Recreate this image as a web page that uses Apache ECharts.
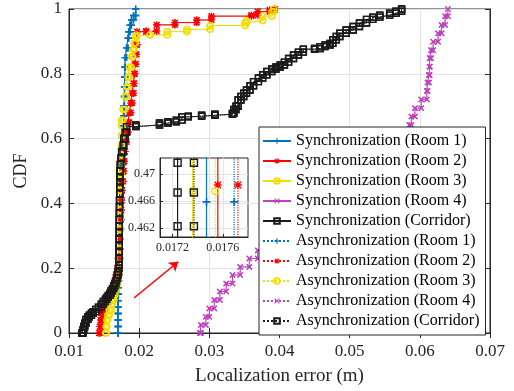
<!DOCTYPE html>
<html>
<head>
<meta charset="utf-8">
<script src="https://cdn.jsdelivr.net/npm/echarts@6/dist/echarts.min.js"></script>
<style>
  html, body { margin: 0; padding: 0; background: #fff; }
  #main { width: 514px; height: 391px; }
</style>
</head>
<body>
<div id="main"></div>
<script>
// CDF samples [localization error (m), CDF]
var room1 = [[0.0170,0],[0.0170,0.02],[0.0170,0.04],[0.01701,0.06],[0.01701,0.08],[0.01702,0.10],[0.01703,0.12],[0.01704,0.14],[0.01706,0.16],[0.0171,0.18],[0.01715,0.20],[0.0172,0.23],[0.01725,0.26],[0.0173,0.29],[0.01733,0.32],[0.01737,0.35],[0.0174,0.38],[0.01743,0.41],[0.01747,0.44],[0.01752,0.466],[0.0176,0.49],[0.01763,0.52],[0.01768,0.55],[0.01772,0.58],[0.01776,0.61],[0.0178,0.64],[0.01782,0.67],[0.01785,0.70],[0.01788,0.73],[0.0179,0.76],[0.01793,0.79],[0.01797,0.82],[0.0180,0.85],[0.0182,0.88],[0.0184,0.91],[0.0185,0.93],[0.0187,0.95],[0.0189,0.966],[0.0192,0.98],[0.0195,1.0]];
var room2 = [[0.01432,0],[0.0144,0.02],[0.01451,0.04],[0.0147,0.055],[0.0148,0.066],[0.0150,0.076],[0.01513,0.086],[0.0153,0.097],[0.0155,0.107],[0.0157,0.117],[0.0159,0.127],[0.0161,0.137],[0.0163,0.148],[0.0165,0.16],[0.0167,0.18],[0.0169,0.2],[0.0170,0.23],[0.0171,0.26],[0.0172,0.29],[0.01726,0.32],[0.0173,0.35],[0.01738,0.38],[0.01745,0.41],[0.0175,0.44],[0.01756,0.468],[0.0177,0.5],[0.0178,0.53],[0.0179,0.56],[0.0180,0.59],[0.0182,0.62],[0.0184,0.65],[0.0186,0.68],[0.0188,0.71],[0.0190,0.74],[0.0192,0.77],[0.0193,0.8],[0.0194,0.83],[0.0195,0.86],[0.0196,0.89],[0.0197,0.93],[0.0210,0.932],[0.0225,0.951],[0.0251,0.958],[0.0282,0.966],[0.0303,0.978],[0.0360,0.981],[0.0369,0.992],[0.0386,0.997],[0.0393,1.0]];
var room3 = [[0.01522,0],[0.0153,0.02],[0.01537,0.04],[0.0155,0.055],[0.01574,0.071],[0.0160,0.087],[0.01617,0.102],[0.0164,0.118],[0.01655,0.133],[0.0167,0.15],[0.01688,0.164],[0.0170,0.18],[0.0171,0.2],[0.01715,0.23],[0.0172,0.26],[0.01722,0.29],[0.01724,0.32],[0.01726,0.35],[0.01728,0.38],[0.0173,0.41],[0.01731,0.44],[0.01733,0.4675],[0.0174,0.49],[0.01742,0.52],[0.01745,0.55],[0.01747,0.58],[0.01749,0.61],[0.0175,0.64],[0.01751,0.657],[0.0177,0.69],[0.0180,0.73],[0.0182,0.76],[0.0184,0.79],[0.0186,0.82],[0.0189,0.853],[0.0191,0.875],[0.0193,0.895],[0.0195,0.915],[0.0196,0.92],[0.02154,0.920],[0.0240,0.930],[0.0268,0.937],[0.0301,0.949],[0.0351,0.958],[0.0353,0.964],[0.0376,0.978],[0.0389,0.992],[0.0392,1.0]];
var room4 = [[0.0287,0],[0.0288,0.025],[0.0295,0.05],[0.0300,0.076],[0.0307,0.102],[0.0315,0.128],[0.0324,0.153],[0.0333,0.179],[0.0344,0.204],[0.0357,0.23],[0.0369,0.255],[0.0585,0.642],[0.0588,0.668],[0.0593,0.694],[0.0602,0.721],[0.0610,0.747],[0.0611,0.773],[0.0613,0.796],[0.0614,0.822],[0.0614,0.848],[0.0616,0.873],[0.0619,0.899],[0.0626,0.925],[0.0631,0.951],[0.0636,0.978],[0.0640,1.0]];
var corridor = [[0.01185,0],[0.0120,0.01],[0.0121,0.02],[0.01225,0.03],[0.01242,0.042],[0.0127,0.05],[0.0129,0.055],[0.0132,0.061],[0.01346,0.066],[0.0138,0.073],[0.0142,0.08],[0.0146,0.089],[0.01489,0.097],[0.0152,0.104],[0.0154,0.11],[0.0156,0.116],[0.01584,0.122],[0.0160,0.13],[0.0162,0.137],[0.0164,0.145],[0.01655,0.153],[0.0167,0.162],[0.0168,0.17],[0.0169,0.18],[0.01702,0.189],[0.01706,0.20],[0.0171,0.21],[0.01712,0.23],[0.01714,0.25],[0.01715,0.27],[0.01716,0.29],[0.01716,0.31],[0.01717,0.33],[0.01717,0.35],[0.01718,0.37],[0.0172,0.39],[0.0172,0.41],[0.01722,0.43],[0.01723,0.45],[0.01724,0.467],[0.01726,0.48],[0.01727,0.50],[0.0173,0.52],[0.0174,0.54],[0.0175,0.56],[0.0177,0.58],[0.0178,0.60],[0.0180,0.62],[0.0182,0.637],[0.01954,0.642],[0.0229,0.648],[0.0241,0.652],[0.0253,0.657],[0.0261,0.667],[0.0270,0.669],[0.0289,0.672],[0.0308,0.675],[0.0333,0.678],[0.0335,0.69],[0.0338,0.70],[0.0341,0.719],[0.0345,0.73],[0.0349,0.74],[0.0353,0.75],[0.0358,0.763],[0.0363,0.776],[0.0370,0.787],[0.0376,0.797],[0.0382,0.807],[0.0389,0.815],[0.0395,0.821],[0.0401,0.827],[0.0407,0.836],[0.0413,0.847],[0.0420,0.858],[0.0427,0.867],[0.0434,0.876],[0.0450,0.878],[0.0458,0.884],[0.0465,0.889],[0.0472,0.894],[0.0476,0.905],[0.0481,0.915],[0.0486,0.925],[0.0495,0.935],[0.0505,0.946],[0.0514,0.957],[0.0524,0.968],[0.0533,0.975],[0.0543,0.981],[0.0557,0.987],[0.0566,0.993],[0.0574,1.0]];

var curveNames = ['Room 1', 'Room 2', 'Room 3', 'Room 4', 'Corridor'];
var curves = [room1, room2, room3, room4, corridor];

// inset (zoom round CDF ~0.466): x of each vertical stair and CDF of its markers
var insetCurves = [0, 1, 2, 4];
var insetSyncX = [0.01747, 0.01756, 0.01736, 0.01724];
var insetAsyncX = [0.01769, 0.01772, 0.01754, 0.01737];
var insetLevels = [[0.4659], [0.4684], [0.4675], [0.4623, 0.4673, 0.4717]];
var insetXTicks = [0.0172, 0.0176];
var insetYTicks = [0.462, 0.466, 0.47];

var colors = ['#0072BD', '#FF0000', '#F2DE00', '#BF3FBF', '#1A1A1A'];
var symbols = [
  'path://M4,0H6V4H10V6H6V10H4V6H0V4H4Z',
  'path://M4.2,0H5.8V4.2H10V5.8H5.8V10H4.2V5.8H0V4.2H4.2Z M1.6,0.4L5,3.8L8.4,0.4L9.6,1.6L6.2,5L9.6,8.4L8.4,9.6L5,6.2L1.6,9.6L0.4,8.4L3.8,5L0.4,1.6Z',
  'circle',
  'path://M0,1.4L1.4,0L5,3.6L8.6,0L10,1.4L6.4,5L10,8.6L8.6,10L5,6.4L1.4,10L0,8.6L3.6,5Z',
  'rect'
];
var symSizes = [7, 7, 6, 6, 6];
var font = 'Liberation Serif';

// ecdf stairs: every vertex gets a marker, as in the figure
function stairs(pts) {
  var out = [], prev = 0;
  pts.forEach(function (p) {
    out.push([p[0], prev]);
    out.push([p[0], p[1]]);
    prev = p[1];
  });
  return out;
}

function itemStyleFor(i) {
  if (symbols[i] === 'circle' || symbols[i] === 'rect') {
    return { color: 'rgba(0,0,0,0)', borderColor: colors[i], borderWidth: 1.4 };
  }
  return { color: colors[i] };
}

var series = [];
var legendNames = [];
['Synchronization', 'Asynchronization'].forEach(function (mode, m) {
  curves.forEach(function (c, i) {
    var name = mode + ' (' + curveNames[i] + ')';
    legendNames.push(name);
    series.push({
      name: name,
      type: 'line',
      xAxisIndex: 0,
      yAxisIndex: 0,
      data: stairs(c),
      symbol: symbols[i],
      symbolSize: symSizes[i],
      itemStyle: itemStyleFor(i),
      lineStyle: { color: colors[i], width: 1, type: m === 0 ? 'solid' : 'dotted' },
      silent: true,
      animation: false
    });
  });
});

// red arrow pointing at the zoomed area
series[0].markLine = {
  silent: true,
  symbol: ['none', 'arrow'],
  symbolSize: 9,
  label: { show: false },
  lineStyle: { color: '#FF0000', width: 1.5, type: 'solid' },
  data: [[{ coord: [0.01926, 0.108] }, { coord: [0.02558, 0.22] }]]
};

var inMin = 0.4607, inMax = 0.4724;
function insetLine(x, levels) {
  var d = [{ value: [x, inMin - 0.01], symbol: 'none' }];
  levels.forEach(function (v) { d.push([x, v]); });
  d.push({ value: [x, inMax + 0.01], symbol: 'none' });
  return d;
}
[insetSyncX, insetAsyncX].forEach(function (xs, m) {
  insetCurves.forEach(function (ci, k) {
    series.push({
      name: 'inset-' + m + '-' + ci,
      type: 'line',
      xAxisIndex: 2,
      yAxisIndex: 2,
      data: insetLine(xs[k], insetLevels[k]),
      symbol: symbols[ci],
      symbolSize: symSizes[ci] + 1,
      itemStyle: itemStyleFor(ci),
      lineStyle: { color: colors[ci], width: 1.2, type: m === 0 ? 'solid' : 'dotted' },
      silent: true,
      animation: false
    });
  });
});

var tickColor = '#262626';
var chart = echarts.init(document.getElementById('main'));
chart.setOption({
  animation: false,
  backgroundColor: '#fff',
  grid: [
    { left: 69, top: 9, width: 421, height: 324, show: true, borderColor: tickColor, borderWidth: 1 },
    { left: 160, top: 158, width: 88, height: 79, show: true, backgroundColor: '#fff', borderColor: tickColor, borderWidth: 1 }
  ],
  xAxis: [
    {
      type: 'value', gridIndex: 0, min: 0.01, max: 0.07, interval: 0.01,
      name: 'Localization error (m)', nameLocation: 'middle', nameGap: 34,
      nameTextStyle: { fontFamily: font, fontSize: 19, color: tickColor },
      axisLine: { lineStyle: { color: tickColor } },
      axisTick: { inside: true, length: 5, lineStyle: { color: tickColor } },
      axisLabel: { fontFamily: font, fontSize: 17, color: tickColor, margin: 10 },
      splitLine: { lineStyle: { color: '#E3E3E3' } }
    },
    {
      type: 'value', gridIndex: 0, position: 'top', min: 0.01, max: 0.07, interval: 0.01,
      axisLine: { lineStyle: { color: tickColor } },
      axisTick: { inside: true, length: 5, lineStyle: { color: tickColor } },
      axisLabel: { show: false }, splitLine: { show: false }
    },
    {
      type: 'value', gridIndex: 1, min: 0.0171, max: 0.0178,
      axisLine: { lineStyle: { color: tickColor } },
      axisTick: { inside: true, length: 3, customValues: insetXTicks, lineStyle: { color: tickColor } },
      axisLabel: { fontFamily: font, fontSize: 12, color: tickColor, margin: 5, customValues: insetXTicks },
      splitLine: { lineStyle: { color: '#E3E3E3' } }
    }
  ],
  yAxis: [
    {
      type: 'value', gridIndex: 0, min: 0, max: 1, interval: 0.2,
      name: 'CDF', nameLocation: 'middle', nameGap: 35,
      nameTextStyle: { fontFamily: font, fontSize: 18, color: tickColor },
      axisLine: { show: true, lineStyle: { color: tickColor } },
      axisTick: { show: true, inside: true, length: 5, lineStyle: { color: tickColor } },
      axisLabel: { fontFamily: font, fontSize: 17, color: tickColor, margin: 7 },
      splitLine: { lineStyle: { color: '#E3E3E3' } }
    },
    {
      type: 'value', gridIndex: 0, position: 'right', min: 0, max: 1, interval: 0.2,
      axisLine: { show: true, lineStyle: { color: tickColor } },
      axisTick: { show: true, inside: true, length: 5, lineStyle: { color: tickColor } },
      axisLabel: { show: false }, splitLine: { show: false }
    },
    {
      type: 'value', gridIndex: 1, min: inMin, max: inMax,
      axisLine: { show: true, lineStyle: { color: tickColor } },
      axisTick: { show: true, inside: true, length: 3, customValues: insetYTicks, lineStyle: { color: tickColor } },
      axisLabel: { fontFamily: font, fontSize: 12, color: tickColor, margin: 5, customValues: insetYTicks },
      splitLine: { lineStyle: { color: '#E3E3E3' } }
    }
  ],
  legend: {
    data: legendNames,
    orient: 'vertical',
    left: 259,
    top: 127,
    padding: [6, 6, 6, 3],
    itemWidth: 28,
    itemHeight: 7,
    itemGap: 4,
    backgroundColor: '#fff',
    borderColor: tickColor,
    borderWidth: 1,
    borderRadius: 0,
    selectedMode: false,
    textStyle: { fontFamily: font, fontSize: 16, lineHeight: 16, color: '#000', padding: [0, 0, 0, 0] }
  },
  series: series
});
</script>
</body>
</html>
